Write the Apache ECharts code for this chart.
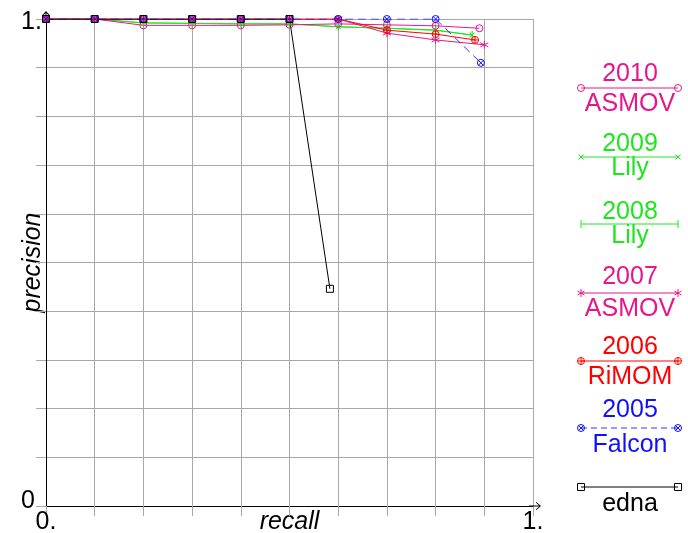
<!DOCTYPE html>
<html><head><meta charset="utf-8">
<script src="https://cdn.jsdelivr.net/npm/echarts@6/dist/echarts.min.js"></script>
<style>html,body{margin:0;padding:0;background:#fff}#c{width:688px;height:533px}</style>
</head><body><div id="c"></div>
<script>
// ---- data (recall, precision) ----
const xTickLabels = {0: '0.', 1: '1.'};
const yTickLabels = {0: '0', 1: '1.'};

const asmov2010R = [0, 0.1, 0.2, 0.3, 0.4, 0.5, 0.6, 0.7, 0.8, 0.89];
const asmov2010P = [1, 1, 0.987, 0.987, 0.987, 0.988, 0.99, 0.988, 0.986, 0.981];
const lily2009R  = [0, 0.1, 0.2, 0.3, 0.4, 0.5, 0.6, 0.7, 0.8, 0.875];
const lily2009P  = [1, 1, 0.992, 0.991, 0.99, 0.99, 0.984, 0.981, 0.977, 0.967];
const lily2008R  = [0, 0.1, 0.2, 0.3, 0.4, 0.5, 0.6, 0.7, 0.8, 0.875];
const lily2008P  = [1, 1, 0.992, 0.991, 0.99, 0.99, 0.984, 0.981, 0.977, 0.967];
const asmov2007R = [0, 0.1, 0.2, 0.3, 0.4, 0.5, 0.6, 0.7, 0.8, 0.9];
const asmov2007P = [1, 1, 1, 1, 1, 1, 1, 0.971, 0.957, 0.947];
const rimom2006R = [0, 0.1, 0.2, 0.3, 0.4, 0.5, 0.6, 0.7, 0.8, 0.881];
const rimom2006P = [1, 1, 1, 1, 1, 1, 1, 0.977, 0.969, 0.957];
const falcon2005R = [0, 0.1, 0.2, 0.3, 0.4, 0.5, 0.6, 0.7, 0.8, 0.893];
const falcon2005P = [1, 1, 1, 1, 1, 1, 1, 1, 1, 0.91];
const ednaR = [0, 0.1, 0.2, 0.3, 0.4, 0.5, 0.583];
const ednaP = [1, 1, 1, 1, 1, 1, 0.446];

// ---- styles ----
const PINK = '#e8168a', GREEN = '#1ee61e', RED = '#ff0000', BLUE = '#1010ff', BLACK = '#000000';
const CIRC = 'M5,0A5,5,0,1,1,5,10A5,5,0,1,1,5,0Z';
const PATHS = {
  circle: CIRC,
  oplus: CIRC + 'M0,5L10,5M5,0L5,10',
  otimes: CIRC + 'M1.46,1.46L8.54,8.54M8.54,1.46L1.46,8.54',
  x: 'M0,0L10,10M10,0L0,10',
  ast: 'M5,0L5,10M0.67,2.5L9.33,7.5M9.33,2.5L0.67,7.5',
  bar: 'M0,0L1,0L1,10L0,10Z',
  square: 'M0,0L10,0L10,10L0,10Z'
};
const FONT = '"Liberation Sans", Arial, sans-serif';

const defs = [
  {year: '2010', name: 'ASMOV', R: asmov2010R, P: asmov2010P, color: PINK, sym: 'circle', size: 7, ly: [74, 88, 104]},
  {year: '2009', name: 'Lily', R: lily2009R, P: lily2009P, color: GREEN, sym: 'x', size: 5, ly: [144, 157, 168]},
  {year: '2008', name: 'Lily', R: lily2008R, P: lily2008P, color: GREEN, sym: 'bar', size: 8, ly: [212, 224, 236]},
  {year: '2007', name: 'ASMOV', R: asmov2007R, P: asmov2007P, color: PINK, sym: 'ast', size: 8, ly: [277, 293, 309]},
  {year: '2006', name: 'RiMOM', R: rimom2006R, P: rimom2006P, color: RED, sym: 'oplus', size: 7, ly: [347, 361, 377]},
  {year: '2005', name: 'Falcon', R: falcon2005R, P: falcon2005P, color: BLUE, sym: 'otimes', size: 7, dashed: true, ly: [410, 428, 445]},
  {year: '', name: 'edna', R: ednaR, P: ednaP, color: BLACK, sym: 'square', size: 7, ly: [0, 487, 504]}
];
const order = [2, 1, 0, 3, 4, 5, 6];

const series = order.map(i => {
  const d = defs[i];
  const isBar = d.sym === 'bar';
  return {
    type: 'line', name: d.year + ' ' + d.name, silent: true, animation: false,
    data: d.R.map((r, k) => [r, d.P[k]]),
    symbol: 'path://' + PATHS[d.sym], symbolSize: isBar ? [1.2, d.size] : d.size, showSymbol: true, showAllSymbol: true,
    lineStyle: {color: d.color, width: 1, type: d.dashed ? [8, 5] : 'solid', opacity: d.dashed ? 0.85 : 1},
    itemStyle: {color: isBar ? d.color : 'rgba(0,0,0,0)', borderColor: d.color, borderWidth: isBar ? 0 : 1},
    z: 3
  };
});

// ---- legend graphics (built from basic shapes) ----
function markerEls(kind, cx, cy, s, c) {
  const h = s / 2, st = {stroke: c, fill: null, lineWidth: 1};
  const ln = (x1, y1, x2, y2) => ({type: 'line', shape: {x1: cx + x1, y1: cy + y1, x2: cx + x2, y2: cy + y2}, style: st});
  const circ = {type: 'circle', shape: {cx: cx, cy: cy, r: h}, style: st};
  const d = h * 0.7071;
  switch (kind) {
    case 'circle': return [circ];
    case 'oplus': return [circ, ln(-h, 0, h, 0), ln(0, -h, 0, h)];
    case 'otimes': return [circ, ln(-d, -d, d, d), ln(d, -d, -d, d)];
    case 'x': return [ln(-h, -h, h, h), ln(h, -h, -h, h)];
    case 'ast': return [ln(0, -h, 0, h), ln(-h * 0.866, -h / 2, h * 0.866, h / 2), ln(h * 0.866, -h / 2, -h * 0.866, h / 2)];
    case 'bar': return [ln(0, -h, 0, h)];
    case 'square': return [{type: 'rect', shape: {x: cx - h, y: cy - h, width: s, height: s}, style: st}];
  }
  return [];
}
const LX1 = 581, LX2 = 678, LCX = 630;
const graphic = [];
defs.forEach(d => {
  const [ty, ly, ny] = d.ly;
  const ts = (t, y) => ({type: 'text', style: {text: t, x: LCX, y: y, font: '25px ' + FONT, fill: d.color, textAlign: 'center', textVerticalAlign: 'middle', align: 'center', verticalAlign: 'middle'}});
  if (d.year) graphic.push(ts(d.year, ty));
  graphic.push(ts(d.name, ny));
  graphic.push({type: 'line', shape: {x1: LX1, y1: ly, x2: LX2, y2: ly}, style: {stroke: d.color, lineWidth: 1, lineDash: d.dashed ? [6, 4] : null, opacity: d.dashed ? 0.85 : 1}});
  [LX1, LX2].forEach(x => markerEls(d.sym, x, ly, d.size, d.color).forEach(e => graphic.push(e)));
});

const ARROW = 'path://M4,0L8,4.6L7.4,5.2L4.5,1.9L4.5,12L3.5,12L3.5,1.9L0.6,5.2L0,4.6Z';
const GRID = '#a8a8a8';
const chart = echarts.init(document.getElementById('c'), null, {renderer: 'canvas'});
chart.setOption({
  backgroundColor: '#fff',
  animation: false,
  grid: {left: 46, top: 19, width: 487, height: 487, containLabel: false, outerBoundsMode: 'none'},
  xAxis: {
    type: 'value', min: 0, max: 1, interval: 0.1,
    name: 'recall', nameLocation: 'middle', nameGap: 4, nameMoveOverlap: false,
    nameTextStyle: {fontFamily: FONT, fontSize: 25, fontStyle: 'italic', color: '#000', verticalAlign: 'top'},
    axisLine: {show: true, lineStyle: {color: '#000', width: 1}, symbol: ['none', ARROW], symbolSize: [8, 12], symbolOffset: [0, 2]},
    axisTick: {show: true, length: 10, inside: false, lineStyle: {color: GRID}},
    splitLine: {show: true, lineStyle: {color: GRID, width: 1}},
    axisLabel: {margin: 4, fontFamily: FONT, fontSize: 25, color: '#000', formatter: v => xTickLabels[v] !== undefined ? xTickLabels[v] : ''}
  },
  yAxis: {
    type: 'value', min: 0, max: 1, interval: 0.1,
    name: 'precision', nameLocation: 'middle', nameGap: 0, nameRotate: 90, nameMoveOverlap: false,
    nameTextStyle: {fontFamily: FONT, fontSize: 25, fontStyle: 'italic', color: '#000'},
    axisLine: {show: true, lineStyle: {color: '#000', width: 1}, symbol: ['none', ARROW], symbolSize: [8, 12], symbolOffset: [0, 2]},
    axisTick: {show: true, length: 10, inside: false, lineStyle: {color: GRID}},
    splitLine: {show: true, lineStyle: {color: GRID, width: 1}},
    axisLabel: {
      margin: 25, align: 'left', fontFamily: FONT, fontSize: 25, color: '#000',
      formatter: v => v === 0 ? '{lo|' + yTickLabels[0] + '}' : (v === 1 ? '{hi|' + yTickLabels[1] + '}' : ''),
      rich: {lo: {fontFamily: FONT, fontSize: 25, color: '#000', padding: [0, 0, 10, 0]}, hi: {fontFamily: FONT, fontSize: 25, color: '#000', padding: [6, 0, 0, 0]}}
    }
  },
  series: series,
  graphic: graphic
});
</script></body></html>
